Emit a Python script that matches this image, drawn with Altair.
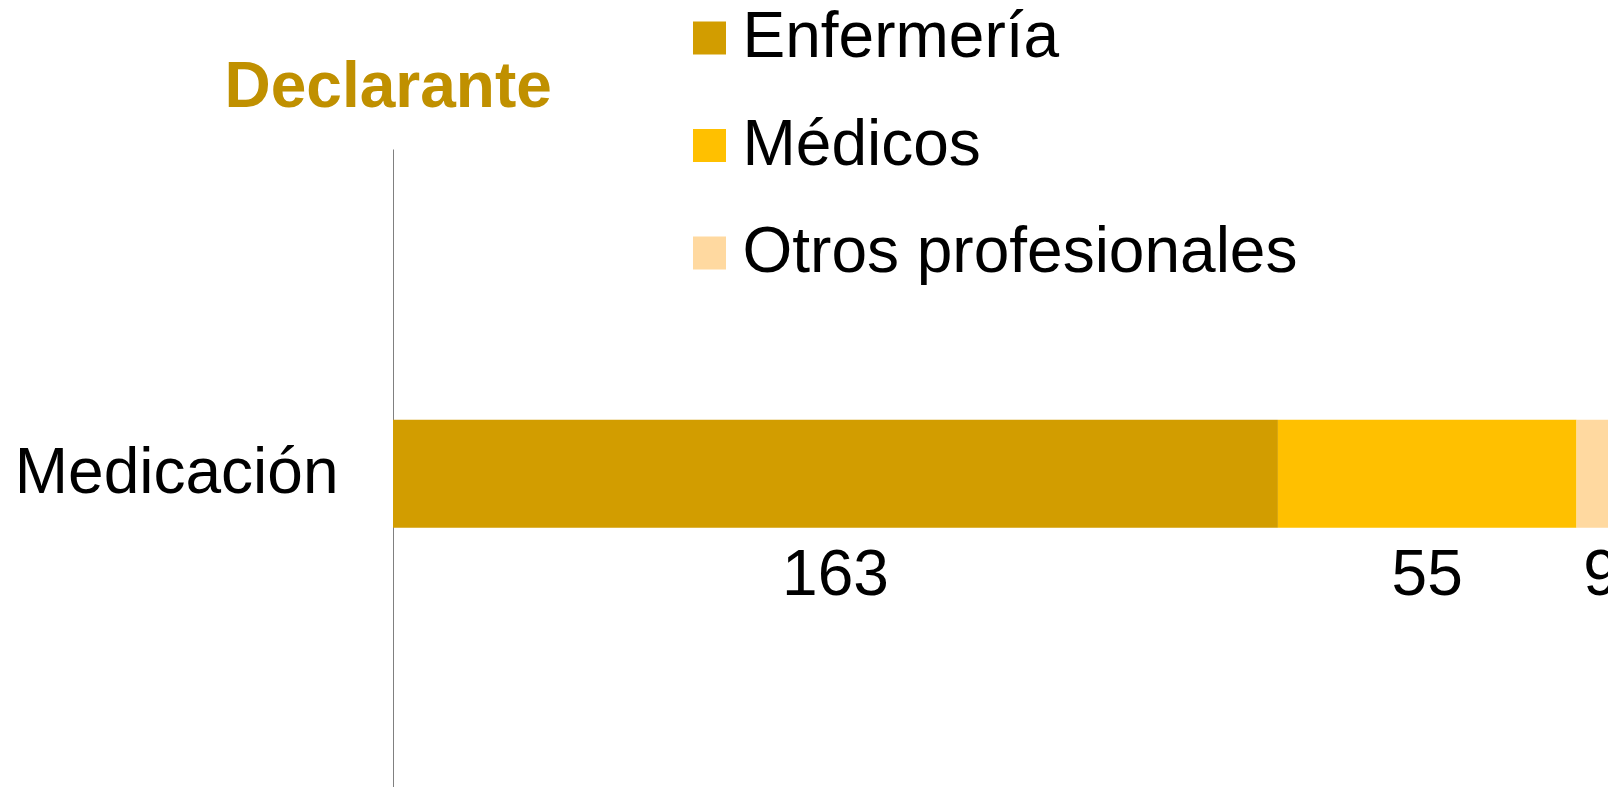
import altair as alt
import pandas as pd

categories = ["Medicación"]
series = ["Enfermería", "Médicos", "Otros profesionales"]
values = [163, 55, 9]
order = [0, 1, 2]
colors = ["#D29D00", "#FFC000", "#FFD9A0"]

df = pd.DataFrame({
    "cat": categories * len(series),
    "serie": series,
    "valor": values,
    "orden": order,
})

FONT = "Liberation Sans"
FS = 64

base = alt.Chart(df).transform_stack(
    stack="valor", groupby=["cat"], as_=["x0", "x1"],
    sort=[alt.SortField("orden", order="ascending")],
).transform_calculate(mid="(datum.x0 + datum.x1) / 2")

xscale = alt.Scale(domain=[0, 223.8], nice=False, zero=True)
yscale = alt.Scale(paddingInner=0.5924, paddingOuter=1, align=0.511)

bars = base.mark_bar(clip=True).encode(
    x=alt.X("x0:Q", scale=xscale, axis=None),
    x2="x1:Q",
    y=alt.Y("cat:N", scale=yscale, axis=alt.Axis(
        title="Declarante", titleAngle=0, titleAlign="left",
        titleBaseline="alphabetic", titleX=-169, titleY=-43,
        titleFont=FONT, titleFontSize=64, titleFontWeight="bold",
        titleColor="#C09000",
        labelFontSize=FS, labelFont=FONT, labelColor="black",
        labelPadding=55, ticks=False, domainColor="#808080", domainWidth=1,
        labelLimit=1000, grid=False)),
    color=alt.Color("serie:N", scale=alt.Scale(domain=series, range=colors),
                    legend=alt.Legend(
                        title=None, orient="none", legendX=284.5, legendY=-143,
                        direction="vertical", symbolType="square", symbolSize=1089,
                        symbolStrokeWidth=0, labelFontSize=FS, labelFont=FONT,
                        labelColor="black", labelOffset=1, rowPadding=43.5,
                        labelLimit=1000, padding=0)),
    order=alt.Order("orden:Q"),
)

labels = base.mark_text(fontSize=FS, font=FONT, baseline="alphabetic",
                        dy=121, color="black", align="center").encode(
    x=alt.X("mid:Q", scale=xscale, axis=None),
    y=alt.Y("cat:N", scale=yscale),
    text="valor:Q",
)

chart = alt.layer(bars, labels).properties(
    width=1215, height=638,
    autosize=alt.AutoSizeParams(type="none"),
    padding={"left": 385, "top": 141, "right": 0, "bottom": 0},
    background="white",
).configure_view(stroke=None)

chart.save("out.html", embed_options={"renderer": "svg", "actions": False})
